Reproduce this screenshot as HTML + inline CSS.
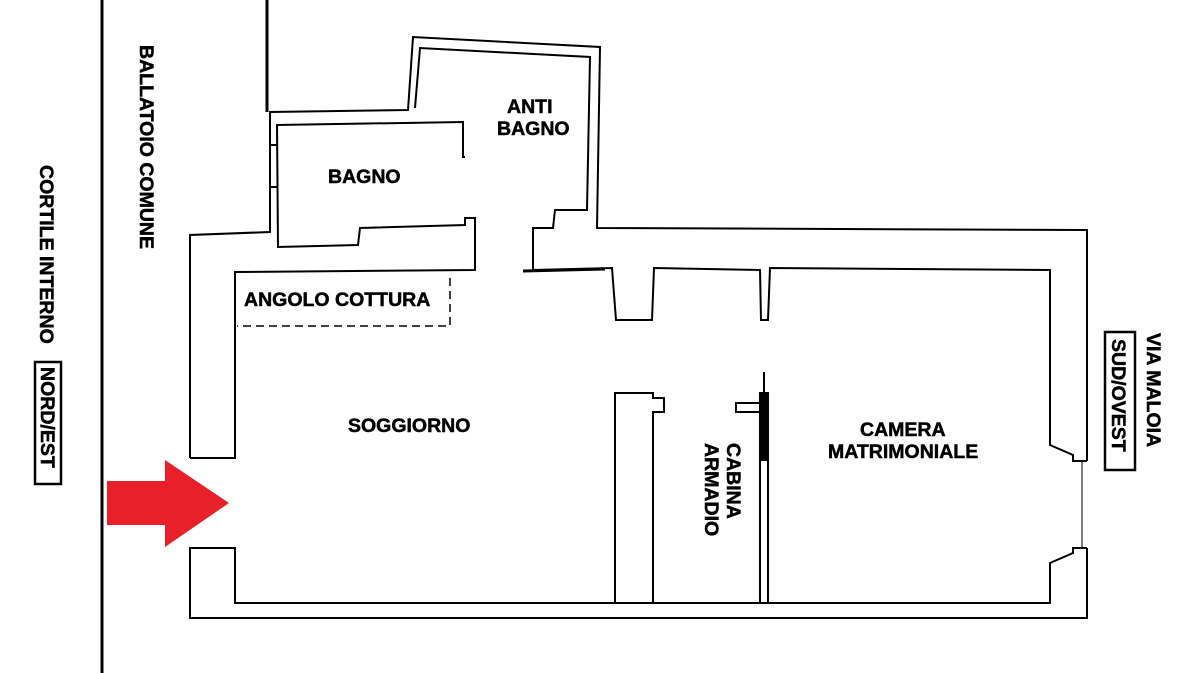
<!DOCTYPE html>
<html><head><meta charset="utf-8"><style>
html,body{margin:0;padding:0;background:#fff;width:1188px;height:673px;overflow:hidden}
svg{display:block}
text{font-family:"Liberation Sans","DejaVu Sans",sans-serif;font-weight:bold;fill:#000;stroke:#000;stroke-width:0.5}
</style></head><body>
<svg width="1188" height="673" viewBox="0 0 1188 673" xmlns="http://www.w3.org/2000/svg">
<g fill="none" stroke="#000" stroke-width="2" stroke-linejoin="miter">
<line x1="102" y1="0" x2="102" y2="673" stroke-width="3"/>
<line x1="267" y1="0" x2="267" y2="112" stroke-width="3"/>
<polyline points="190,458 190,235 270,232 270,112 408,110 413,37 600,47 597,228 1087,230 1087,461"/>
<polyline points="1087,548 1087,618 190,618 190,548 235,548 235,603 1050,603 1050,563 1073,553 1073,548 1087,548"/>
<line x1="1082" y1="461" x2="1082" y2="548" stroke-width="1"/>
<polyline points="190,458 235,458 235,272 475,270 475,218 465,218 465,225 360,228 358,245 278,247 277,125 463,122 463,157 465,157"/>
<line x1="270" y1="145" x2="277" y2="145"/>
<line x1="270" y1="187" x2="277" y2="187"/>
<polyline points="415,108 420,48 590,57 587,210 555,210 553,228 533,228 533,270"/>
<line x1="523" y1="271" x2="605" y2="269" stroke-width="3"/>
<polyline points="533,270 612,268 616,320 652,320 654,268 760,270 761,320 768,320 770,268 1050,270 1050,445 1073,455 1073,461 1087,461"/>
<polyline points="615,603 615,393 653,393 653,398 664,398 664,412 653,412 653,603"/>
<polyline points="760,603 760,460 768,460 768,603"/>
<rect x="736" y="403" width="24" height="9"/>
<rect x="760" y="393" width="8" height="67" fill="#000"/>
<line x1="764" y1="372" x2="764" y2="393" stroke-width="2"/>
<polyline points="450,278 450,326 237,326" stroke-dasharray="8,5" stroke-width="1.5"/>
<rect x="35" y="362" width="26" height="122" stroke-width="2.5"/>
<rect x="1105" y="332" width="30" height="138" stroke-width="2.5"/>
</g>
<path d="M107,481 H165 V460 L229,503 L165,547 V525 H107 Z" fill="#e8202a"/>
<g font-size="19.5">
<text x="328" y="183">BAGNO</text>
<text x="507" y="113">ANTI</text>
<text x="497" y="135">BAGNO</text>
<text x="244" y="306">ANGOLO COTTURA</text>
<text x="348" y="432">SOGGIORNO</text>
<text x="860" y="436">CAMERA</text>
<text x="828" y="458">MATRIMONIALE</text>
<text transform="translate(727,443) rotate(90)">CABINA</text>
<text transform="translate(705,443) rotate(90)">ARMADIO</text>
<text transform="translate(140,45) rotate(90)">BALLATOIO COMUNE</text>
<text transform="translate(40,165) rotate(90)">CORTILE INTERNO</text>
<text transform="translate(41,367) rotate(90)">NORD/EST</text>
<text transform="translate(1112,339) rotate(90)">SUD/OVEST</text>
<text transform="translate(1147,333) rotate(90)">VIA MALOIA</text>
</g>
</svg>
</body></html>
